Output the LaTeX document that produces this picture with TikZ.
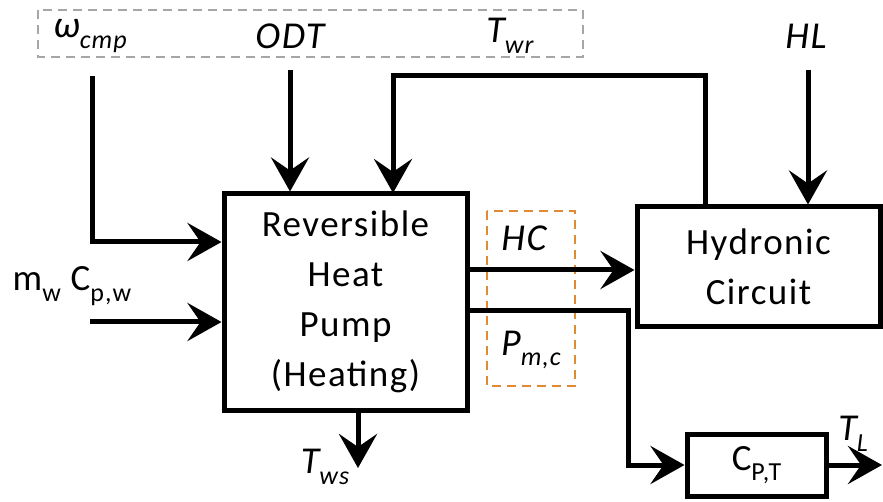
\documentclass[tikz,border=0pt]{standalone}
\usepackage{fontspec}
\setmainfont[LetterSpace=4]{Carlito}
\usetikzlibrary{arrows.meta}
\newcommand\subsc[1]{\raisebox{-0.28em}{\fontsize{26}{26}\selectfont #1}}
\begin{document}
\begin{tikzpicture}[x=1pt,y=-1pt,
  every node/.style={font=\fontsize{37}{50}\selectfont, inner sep=0pt},
  blk/.style={draw, line width=5pt, align=center},
  conn/.style={line width=5pt, -{Stealth[length=34pt,width=38pt,inset=13pt]}},
  lbl/.style={font=\fontsize{38}{40}\selectfont\itshape}]
\useasboundingbox (0,0) rectangle (883,502);
% dashed boxes
\draw[gray!70, line width=1.3pt, dash pattern=on 9pt off 6pt] (38,10) rectangle (583,57);
\draw[orange!85!black!80, line width=1.3pt, dash pattern=on 9pt off 6pt] (487,211) rectangle (575,386);
% blocks
\node[blk, minimum width=243pt, minimum height=216pt] (hp) at (345.5,302)
  {Reversible\\Heat\\Pump\\(Heating)};
\node[blk, minimum width=243pt, minimum height=120pt] (hc) at (758.5,267)
  {Hydronic\\Circuit};
\node[blk, minimum width=139pt, minimum height=62pt] (cpt) at (756.5,465)
  {C\subsc{P,T}};
% labels
\node[lbl] (w) at (90,36) {ω\subsc{\itshape cmp}};
\node[lbl] (odt) at (290,36) {ODT};
\node[lbl] (twr) at (510,36) {T\subsc{\itshape wr}};
\node[lbl] (hl) at (806,36) {HL};
\node (mw) at (72,286) {m\subsc{w} C\subsc{p,w}};
\node[lbl] (hclbl) at (524,238) {HC};
\node[lbl] (pmc) at (531,350) {P\subsc{\itshape m,c}};
\node[lbl] (tws) at (325,467) {T\subsc{\itshape ws}};
\node[lbl] (tl) at (853,434) {T\subsc{\itshape L}};
% coordinates
\coordinate (wtop) at (92,76);
\coordinate (odttop) at (290,70);
\coordinate (hltop) at (808,70);
\coordinate (min) at (90,322);
\coordinate (twsend) at (358,468);
\coordinate (tlend) at (882,465);
% connectors
\draw[conn] (wtop) |- (hp.west |- 0,242);
\draw[conn] (odttop) -- (hp.north -| odttop);
\draw[conn] (hc.north -| 705,0) -- (705,76) -| (393,193);
\draw[conn] (hltop) -- (hc.north -| hltop);
\draw[conn] (min) -- (hp.west |- min);
\draw[conn] (hp.east |- 0,270) -- (hc.west |- 0,270);
\draw[conn] (hp.east |- 0,311) -- (628,311) |- (cpt.west);
\draw[conn] (hp.south -| twsend) -- (twsend);
\draw[conn] (cpt.east) -- (tlend);
\end{tikzpicture}
\end{document}
